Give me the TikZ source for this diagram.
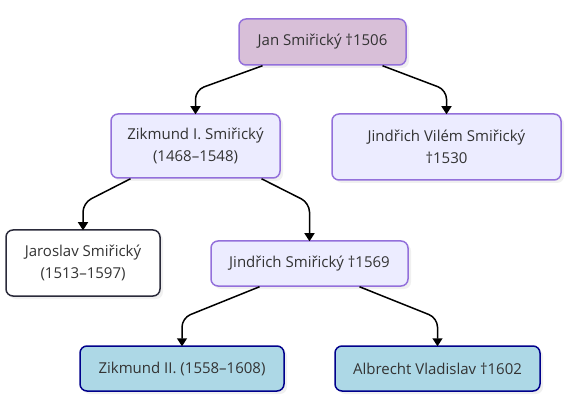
\documentclass[tikz,border=0pt]{standalone}
\usepackage{fontspec}
\setmainfont{Open Sans}
\usetikzlibrary{shadows,arrows.meta}
\definecolor{txt}{HTML}{333333}
\definecolor{purb}{HTML}{9370DB}
\definecolor{thist}{HTML}{D8BFD8}
\definecolor{lav}{HTML}{ECECFF}
\definecolor{lblue}{HTML}{ADD8E6}
\definecolor{navyb}{HTML}{00008B}
\definecolor{darkb}{HTML}{2A2A3A}
\tikzset{
  box/.style={draw, line width=1.5pt, rounded corners=7pt, align=center,
    text=txt, font=\fontsize{15}{22.5}\selectfont, inner sep=0pt,
    drop shadow={opacity=0.12, shadow xshift=3pt, shadow yshift=-3pt}},
  rootbox/.style={box, fill=thist, draw=purb},
  midbox/.style={box, fill=lav, draw=purb},
  plainbox/.style={box, fill=white, draw=darkb},
  leafbox/.style={box, fill=lblue, draw=navyb},
  edge/.style={draw=black, line width=1.5pt, rounded corners=9pt,
    -{Triangle[width=10pt,length=8pt]}}
}
\begin{document}
\begin{tikzpicture}[x=1pt,y=-1pt]
\useasboundingbox (0,0) rectangle (573,414);
\node[rootbox, minimum width=167pt, minimum height=46pt] (jan) at (322.5,42) {Jan Smiřický †1506};
\node[midbox, minimum width=169pt, minimum height=64pt] (zik1) at (195.5,146) {Zikmund I. Smiřický\\(1468–1548)};
\node[midbox, minimum width=229pt, minimum height=66pt] (jvil) at (446.5,147) {Jindřich Vilém Smiřický\\†1530};
\node[plainbox, minimum width=154pt, minimum height=66pt] (jar) at (83,263) {Jaroslav Smiřický\\(1513–1597)};
\node[midbox, minimum width=197pt, minimum height=45pt] (jind) at (309.5,263.5) {Jindřich Smiřický †1569};
\node[leafbox, minimum width=204pt, minimum height=45pt] (zik2) at (182,368.5) {Zikmund II. (1558–1608)};
\node[leafbox, minimum width=205pt, minimum height=45pt] (alb) at (437.5,368.5) {Albrecht Vladislav †1602};
\path[edge] ([xshift=-60pt]jan.south) -- (zik1.north |- 0,90) -- ([yshift=-1pt]zik1.north);
\path[edge] ([xshift=60pt]jan.south) -- (jvil.north |- 0,90) -- ([yshift=-1pt]jvil.north);
\path[edge] ([xshift=-65pt]zik1.south) -- (jar.north |- 0,203) -- ([yshift=-1pt]jar.north);
\path[edge] ([xshift=66pt]zik1.south) -- (jind.north |- 0,203) -- ([yshift=-1pt]jind.north);
\path[edge] ([xshift=-50pt]jind.south) -- (zik2.north |- 0,318) -- ([yshift=-1pt]zik2.north);
\path[edge] ([xshift=50pt]jind.south) -- (alb.north |- 0,318) -- ([yshift=-1pt]alb.north);
\end{tikzpicture}
\end{document}
